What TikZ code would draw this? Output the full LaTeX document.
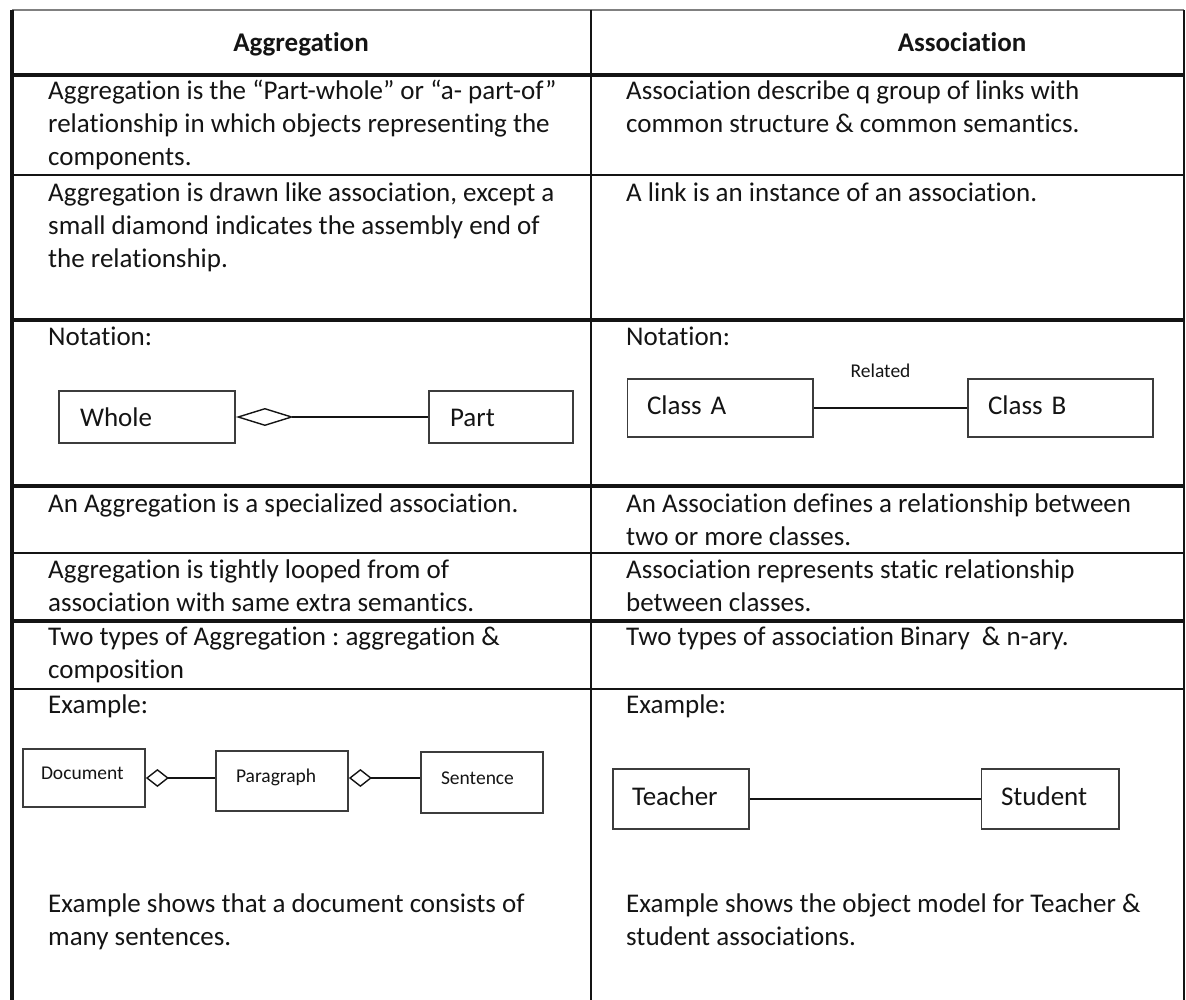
\documentclass[tikz,border=0pt]{standalone}
\usepackage{fontspec}
\setmainfont{Carlito}[Ligatures={TeX,NoCommon}]
\usepackage{xcolor}
\usetikzlibrary{arrows.meta,positioning}

\definecolor{ink}{HTML}{141414}
\definecolor{boxc}{HTML}{3C3C3C}
\newcommand{\body}{\fontsize{27}{33}\selectfont}
\newcommand{\tagfont}{\fontsize{19.5}{23}\selectfont}
\newcommand{\cellrows}[1]{\begin{tabular}[t]{@{}l@{}}#1\end{tabular}}
\frenchspacing

\begin{document}
\begin{tikzpicture}[
    x=1pt, y=-1pt,
    every node/.style={font=\body, text=ink},
    txt/.style={anchor=base west, inner sep=0pt},
    head/.style={anchor=base, inner sep=0pt, font=\body\bfseries},
    rule/.style={draw=ink, line width=1.5pt},
    bold rule/.style={draw=ink, line width=3.2pt},
    cls/.style={draw=boxc, line width=1.8pt, align=left, inner ysep=0pt,
                text height=19pt, text depth=6pt},
    small cls/.style={cls, font=\tagfont, text height=13.5pt, text depth=10pt},
    tag/.style={font=\tagfont, inner sep=0pt},
    link/.style={draw=ink, line width=1.4pt},
    agg/.style={link, {Diamond[open, length=#1, width=18pt]}-},
  ]
    \useasboundingbox (0,0) rectangle (1186,1000);

    % --- Table frame ---
    \draw[rule, draw=gray] (12,10) -- (1184,10);
    \draw[bold rule] (12,10) -- (12,1000);
    \draw[rule] (591,10) -- (591,1000);
    \draw[rule] (1184,10) -- (1184,1000);
    \draw[bold rule] (12,75)  -- (1184,75);
    \draw[rule]      (12,175) -- (1184,175);
    \draw[bold rule] (12,320) -- (1184,320);
    \draw[bold rule] (12,486) -- (1184,486);
    \draw[rule]      (12,553) -- (1184,553);
    \draw[bold rule] (12,621) -- (1184,621);
    \draw[rule]      (12,689) -- (1184,689);

    % --- Headers ---
    \node[head] (hagg)   at (301,52) {Aggregation};
    \node[head] (hassoc) at (962,52) {Association};

    % --- Aggregation column ---
    \node[txt] (aggdef)  at (48,100) {\cellrows{Aggregation is the “Part-whole” or “a- part-of”\\relationship in which objects representing the\\components.}};
    \node[txt] (aggdraw) at (48,202) {\cellrows{Aggregation is drawn like association, except a\\small diamond indicates the assembly end of\\the relationship.}};
    \node[txt] (aggnot)  at (48,345) {Notation:};
    \node[txt] (aggspec) at (48,512) {An Aggregation is a specialized association.};
    \node[txt] (aggloop) at (48,578) {\cellrows{Aggregation is tightly looped from of\\association with same extra semantics.}};
    \node[txt] (aggtype) at (48,645) {\cellrows{Two types of Aggregation : aggregation \&\\composition}};
    \node[txt] (aggex)   at (48,713) {Example:};
    \node[txt] (aggexpl) at (48,912) {\cellrows{Example shows that a document consists of\\many sentences.}};

    % --- Association column ---
    \node[txt] (asdef)   at (626,100) {\cellrows{Association describe q group of links with\\common structure \& common semantics.}};
    \node[txt] (aslink)  at (626,202) {A link is an instance of an association.};
    \node[txt] (asnot)   at (626,345) {Notation:};
    \node[txt] (asrel)   at (626,512) {\cellrows{An Association defines a relationship between\\two or more classes.}};
    \node[txt] (asstat)  at (626,578) {\cellrows{Association represents static relationship\\between classes.}};
    \node[txt] (astype)  at (626,645) {Two types of association Binary\ \ \& n-ary.};
    \node[txt] (asex)    at (626,713) {Example:};
    \node[txt] (asexpl)  at (626,912) {\cellrows{Example shows the object model for Teacher \&\\student associations.}};

    % --- Notation boxes ---
    \node[cls, text depth=0pt, text width=134pt, inner xsep=21pt, minimum height=52pt] (whole) at (147,417) {Whole};
    \node[cls, text depth=0pt, text width=102pt, inner xsep=21pt, minimum height=52pt] (part)  at (501,417) {Part};
    \node[cls, text width=146.5pt, inner xsep=19.5pt, minimum height=58pt] (classa) at (720.25,408) {Class A};
    \node[cls, text width=145pt, inner xsep=20pt, minimum height=58pt]     (classb) at (1060.5,408) {Class B};

    % --- Example boxes ---
    \node[small cls, text width=86pt, inner xsep=18pt, minimum height=58pt] (doc)  at (84,778)   {Document};
    \node[small cls, text width=92pt, inner xsep=20pt, minimum height=60pt] (para) at (282,781)  {Paragraph};
    \node[small cls, text width=82pt, inner xsep=20pt, minimum height=61pt] (sent) at (482,782.5) {Sentence};
    \node[cls, text width=98pt, inner xsep=19pt, minimum height=60pt]   (teacher) at (681,799)    {Teacher};
    \node[cls, text width=98.5pt, inner xsep=19.5pt, minimum height=60pt] (student) at (1050.25,799) {Student};

    % --- Connectors ---
    \draw[agg=58pt] (whole.east) -- (part.west);
    \draw[link] (classa) -- node[tag, above=30pt, xshift=-10pt] (rel) {Related} (classb);
    \draw[agg=23pt] (doc.east) -- (doc.east -| para.west);
    \draw[agg=23pt] (para.east |- doc.east) -- (doc.east -| sent.west);
    \draw[link] (teacher) -- (student);
\end{tikzpicture}
\end{document}
